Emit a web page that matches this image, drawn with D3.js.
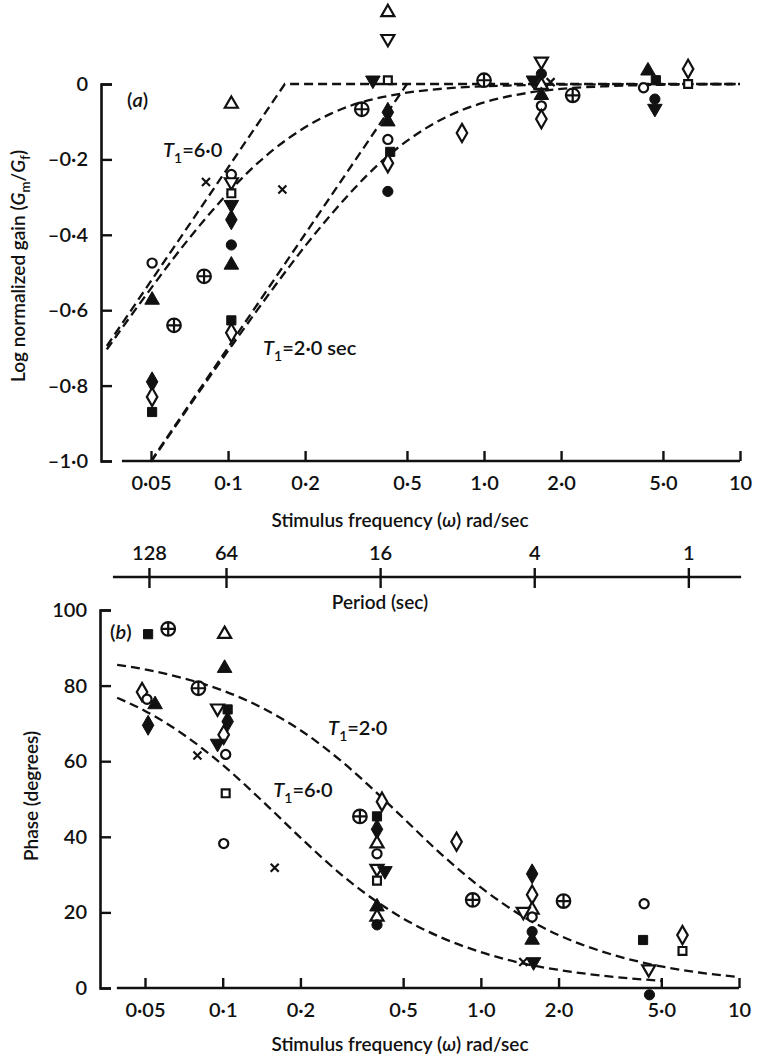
<!DOCTYPE html>
<html>
<head>
<meta charset="utf-8">
<script src="https://cdn.jsdelivr.net/npm/d3@7"></script>
<style>
  body { margin: 0; background: #fff; }
  text { font-family: Lato, "Noto Sans", sans-serif; font-weight: 600; }
</style>
</head>
<body>
<svg id="chart" width="758" height="1061"></svg>
<script>
// tick values and labels
var freqTicks = [0.05, 0.1, 0.2, 0.5, 1, 2, 5, 10];
var freqLabels = ['0·05', '0·1', '0·2', '0·5', '1·0', '2·0', '5·0', '10'];
var gainTicks = [0, -0.2, -0.4, -0.6, -0.8, -1.0];
var gainLabels = ['0', '–0·2', '–0·4', '–0·6', '–0·8', '–1·0'];
var phaseTicks = [0, 20, 40, 60, 80, 100];
var periods = [128, 64, 16, 4, 1];

// (a) gain points: [omega, log gain, symbol]
var gainPoints = [
  [0.0505, -0.475, 'oc'], [0.0505, -0.573, 'ft'], [0.0505, -0.79, 'fdi'],
  [0.0505, -0.83, 'odi'], [0.0505, -0.87, 'fs'],
  [0.0615, -0.64, 'cp'], [0.0806, -0.51, 'cp'], [0.082, -0.26, 'x'],
  [0.103, -0.053, 'ot'], [0.103, -0.24, 'oc'], [0.103, -0.26, 'odn'],
  [0.103, -0.29, 'os'], [0.103, -0.32, 'fdn'], [0.103, -0.36, 'fdi'],
  [0.103, -0.427, 'fc'], [0.103, -0.48, 'ft'], [0.103, -0.627, 'fs'],
  [0.103, -0.66, 'odi'], [0.163, -0.28, 'x'],
  [0.333, -0.067, 'cp'], [0.368, 0.01, 'fdn'],
  [0.421, 0.19, 'ot'], [0.421, 0.12, 'odn'], [0.421, 0.01, 'os'],
  [0.421, -0.075, 'fdi'], [0.421, -0.10, 'ft'], [0.421, -0.147, 'oc'],
  [0.43, -0.18, 'fs'], [0.421, -0.21, 'odi'], [0.421, -0.285, 'fc'],
  [0.82, -0.13, 'odi'], [1.0, 0.01, 'cp'],
  [1.675, 0.06, 'odn'], [1.675, 0.027, 'fc'], [1.56, 0.01, 'fdn'],
  [1.675, -0.003, 'ot'], [1.82, 0.005, 'x'], [1.675, -0.03, 'ft'],
  [1.675, -0.058, 'oc'], [1.675, -0.093, 'odi'], [2.22, -0.03, 'cp'],
  [4.37, 0.035, 'ft'], [4.69, 0.01, 'fs'], [4.2, -0.01, 'oc'],
  [4.65, -0.04, 'fc'], [4.65, -0.065, 'fdn'],
  [6.27, 0.04, 'odi'], [6.27, 0.0, 'os']
];

// (b) phase points: [omega, degrees, symbol]
var phasePoints = [
  [0.0514, 93.6, 'fs'], [0.0615, 95, 'cp'], [0.0487, 78.3, 'odi'],
  [0.0509, 76.4, 'oc'], [0.0547, 75, 'ft'], [0.0514, 69.5, 'fdi'],
  [0.0805, 79.3, 'cp'], [0.0798, 61.5, 'x'],
  [0.1017, 93.6, 'ot'], [0.1017, 84.6, 'ft'], [0.0955, 74, 'odn'],
  [0.1045, 73.7, 'fs'], [0.1045, 70.5, 'fdi'], [0.1009, 67, 'odi'],
  [0.0955, 64.7, 'fdn'], [0.1027, 61.8, 'oc'], [0.1027, 51.5, 'os'],
  [0.1009, 38.2, 'oc'], [0.159, 31.8, 'x'],
  [0.34, 45.4, 'cp'], [0.414, 49.3, 'odi'], [0.396, 45.4, 'fs'],
  [0.396, 42, 'fdi'], [0.396, 38.2, 'ot'], [0.396, 35.5, 'oc'],
  [0.396, 31.6, 'odn'], [0.425, 31, 'fdn'], [0.396, 28.4, 'os'],
  [0.396, 21.5, 'ft'], [0.396, 18.8, 'ot'], [0.396, 16.7, 'fc'],
  [0.805, 38.7, 'odi'], [0.93, 23.3, 'cp'],
  [1.58, 30.2, 'fdi'], [1.58, 24.7, 'odi'], [1.58, 20.7, 'ot'],
  [1.46, 20.2, 'odn'], [1.58, 18.8, 'oc'], [1.58, 14.9, 'fc'],
  [1.58, 12.7, 'ft'], [1.6, 6.9, 'fdn'], [1.46, 6.9, 'x'],
  [2.09, 23, 'cp'], [4.29, 22.3, 'oc'], [4.25, 12.7, 'fs'],
  [4.47, 5, 'odn'], [4.5, -1.8, 'fc'], [6.04, 14, 'odi'], [6.04, 9.8, 'os']
];

// dashed model curves: [omega, value]
var gainAsymT6 = [[0.0336, -0.695], [0.1667, 0], [10, 0]];
var gainT6 = [[0.0336, -0.704], [0.04, -0.632], [0.05, -0.542], [0.06, -0.47], [0.07, -0.412],
  [0.08, -0.364], [0.1, -0.289], [0.12, -0.233], [0.15, -0.175], [0.2, -0.115], [0.25, -0.08],
  [0.3, -0.058], [0.4, -0.035], [0.5, -0.023], [0.7, -0.012], [1, -0.006], [1.5, -0.003],
  [2, -0.0015], [3, -0.0007], [5, -0.0002], [10, 0]];
var gainAsymT2 = [[0.05, -1], [0.5, 0]];
var gainT2 = [[0.05, -1.002], [0.06, -0.924], [0.08, -0.801], [0.1, -0.708], [0.15, -0.542],
  [0.2, -0.43], [0.25, -0.35], [0.3, -0.289], [0.4, -0.204], [0.5, -0.151], [0.7, -0.09],
  [1, -0.049], [1.5, -0.023], [2, -0.013], [3, -0.006], [5, -0.002], [10, -0.0005]];
var phaseT2 = [[0.039, 85.5], [0.05, 84.3], [0.07, 82], [0.1, 78.7], [0.15, 73.3], [0.2, 68.2],
  [0.3, 59], [0.4, 51.3], [0.5, 45], [0.7, 35.5], [1, 26.6], [1.5, 18.4], [2, 14], [3, 9.5],
  [5, 5.7], [7, 4.1], [10, 2.9]];
var phaseT6 = [[0.039, 76.8], [0.05, 73.3], [0.07, 67.2], [0.1, 59], [0.15, 48], [0.2, 39.8],
  [0.3, 29], [0.4, 22.6], [0.5, 18.4], [0.7, 13.4], [1, 9.5], [1.5, 6.3], [2, 4.8], [3, 3.2],
  [5, 1.9]];

var ink = '#111';
var svg = d3.select('#chart');

var xa = d3.scaleLog().domain([0.05, 10]).range([151, 740]);
var ya = d3.scaleLinear().domain([-1, 0]).range([461, 84]);
var xb = d3.scaleLog().domain([0.05, 10]).range([145, 739]);
var yb = d3.scaleLinear().domain([0, 100]).range([988, 610]);

// little helper for italics / subscripts in svg text
function rich(sel, parts, size) {
  var shift = 0;
  parts.forEach(function(p) {
    var t = sel.append('tspan').text(p[0]);
    var sub = p[1].indexOf('s') >= 0;
    var want = sub ? size * 0.28 : 0;
    if (want !== shift) { t.attr('dy', want - shift); shift = want; }
    if (sub) t.attr('font-size', size * 0.7);
    if (p[1].indexOf('i') >= 0) t.attr('font-style', 'italic');
  });
}

function styleAxis(g, size) {
  g.attr('font-size', size).attr('font-family', 'Lato, "Noto Sans", sans-serif').attr('color', ink);
  g.selectAll('.domain').attr('stroke-width', 2.6);
  g.selectAll('.tick line').attr('stroke-width', 2.4);
}

// ---------- panel (a) ----------
var gyA = svg.append('g').attr('transform', 'translate(101,0)')
  .call(d3.axisLeft(ya).tickValues(gainTicks)
    .tickFormat(function(d) { return gainLabels[gainTicks.indexOf(d)]; })
    .tickSizeInner(-11).tickSizeOuter(-11).tickPadding(13));
styleAxis(gyA, 20);

var gxA = svg.append('g').attr('transform', 'translate(0,' + ya(-1) + ')')
  .call(d3.axisBottom(xa).tickValues(freqTicks)
    .tickFormat(function(d) { return freqLabels[freqTicks.indexOf(d)]; })
    .tickSizeInner(-10).tickSizeOuter(0).tickPadding(15));
gxA.select('.domain').attr('d', 'M' + xa(0.0385) + ',0H' + xa(10));
styleAxis(gxA, 20);

// period axis (uses omega = 2*pi/T on the same scale)
var gp = svg.append('g').attr('transform', 'translate(0,577)')
  .call(d3.axisTop(xa).tickValues(periods.map(function(T) { return 2 * Math.PI / T; }))
    .tickFormat(function(d, i) { return String(periods[i]); })
    .tickSizeInner(10).tickSizeOuter(0).tickPadding(7));
gp.select('.domain').attr('d', 'M' + xa(0.0355) + ',0H' + xa(10.1));
gp.selectAll('.tick line').attr('y1', 11).attr('y2', -9);
styleAxis(gp, 20);

svg.append('text').attr('x', 400).attr('y', 527).attr('text-anchor', 'middle')
  .attr('font-size', 19).attr('fill', ink)
  .call(rich, [['Stimulus frequency (', ''], ['ω', 'i'], [') rad/sec', '']], 19);
svg.append('text').attr('x', 380).attr('y', 609).attr('text-anchor', 'middle')
  .attr('font-size', 19).attr('fill', ink).text('Period (sec)');

svg.append('text').attr('transform', 'translate(25,266) rotate(-90)').attr('text-anchor', 'middle')
  .attr('font-size', 19).attr('fill', ink)
  .call(rich, [['Log normalized gain (', ''], ['G', 'i'], ['m', 's'], ['/', ''], ['G', 'i'], ['f', 's'], [')', '']], 19);

// ---------- panel (b) ----------
var gyB = svg.append('g').attr('transform', 'translate(100,0)')
  .call(d3.axisLeft(yb).tickValues(phaseTicks)
    .tickSizeInner(-11).tickSizeOuter(-11).tickPadding(13));
styleAxis(gyB, 20);

var gxB = svg.append('g').attr('transform', 'translate(0,' + yb(0) + ')')
  .call(d3.axisBottom(xb).tickValues(freqTicks)
    .tickFormat(function(d) { return freqLabels[freqTicks.indexOf(d)]; })
    .tickSizeInner(-10).tickSizeOuter(0).tickPadding(15));
gxB.select('.domain').attr('d', 'M' + xb(0.0389) + ',0H' + xb(10));
styleAxis(gxB, 20);

svg.append('text').attr('x', 400).attr('y', 1051).attr('text-anchor', 'middle')
  .attr('font-size', 19).attr('fill', ink)
  .call(rich, [['Stimulus frequency (', ''], ['ω', 'i'], [') rad/sec', '']], 19);
svg.append('text').attr('transform', 'translate(38,796) rotate(-90)').attr('text-anchor', 'middle')
  .attr('font-size', 19).attr('fill', ink).text('Phase (degrees)');

// ---------- dashed curves ----------
function dashed(data, x, y, smooth) {
  var line = d3.line().x(function(d) { return x(d[0]); }).y(function(d) { return y(d[1]); });
  if (smooth) line.curve(d3.curveMonotoneX);
  svg.append('path').datum(data).attr('d', line)
    .attr('fill', 'none').attr('stroke', ink).attr('stroke-width', 2.3)
    .attr('stroke-dasharray', '9,5');
}
dashed(gainAsymT6, xa, ya, false);
dashed(gainT6, xa, ya, true);
dashed(gainAsymT2, xa, ya, false);
dashed(gainT2, xa, ya, true);
dashed(phaseT2, xb, yb, true);
dashed(phaseT6, xb, yb, true);

// ---------- annotations ----------
function note(x, y, w, v, parts) {
  svg.append('text').attr('x', x(w)).attr('y', y(v)).attr('font-size', 20).attr('fill', ink)
    .call(rich, parts, 20);
}
note(xa, ya, 0.0403, -0.061, [['(', ''], ['a', 'i'], [')', '']]);
note(xa, ya, 0.0557, -0.194, [['T', 'i'], ['1', 's'], ['=6·0', '']]);
note(xa, ya, 0.137, -0.719, [['T', 'i'], ['1', 's'], ['=2·0 sec', '']]);
note(xb, yb, 0.0366, 92.3, [['(', ''], ['b', 'i'], [')', '']]);
note(xb, yb, 0.256, 66.9, [['T', 'i'], ['1', 's'], ['=2·0', '']]);
note(xb, yb, 0.157, 50.5, [['T', 'i'], ['1', 's'], ['=6·0', '']]);

// ---------- markers ----------
var times = { draw: function(ctx, size) {
  var r = Math.sqrt(size) / 2;
  ctx.moveTo(-r, -r); ctx.lineTo(r, r); ctx.moveTo(r, -r); ctx.lineTo(-r, r);
} };
var circlePlus = { draw: function(ctx, size) {
  var r = Math.sqrt(size / Math.PI);
  ctx.moveTo(r, 0); ctx.arc(0, 0, r, 0, 2 * Math.PI);
  ctx.moveTo(-r, 0); ctx.lineTo(r, 0); ctx.moveTo(0, -r); ctx.lineTo(0, r);
} };
var symbols = {
  oc: [d3.symbolCircle, 66, false, 0], fc: [d3.symbolCircle, 82, true, 0],
  ot: [d3.symbolTriangle, 74, false, 0], ft: [d3.symbolTriangle, 92, true, 0],
  odn: [d3.symbolTriangle, 74, false, 180], fdn: [d3.symbolTriangle, 92, true, 180],
  os: [d3.symbolSquare, 62, false, 0], fs: [d3.symbolSquare, 84, true, 0],
  odi: [d3.symbolDiamond, 96, false, 0], fdi: [d3.symbolDiamond, 115, true, 0],
  x: [times, 64, false, 0], cp: [circlePlus, 145, false, 0]
};

function marks(data, x, y) {
  svg.append('g').selectAll('path').data(data).join('path')
    .attr('transform', function(d) {
      return 'translate(' + x(d[0]) + ',' + y(d[1]) + ') rotate(' + symbols[d[2]][3] + ')';
    })
    .attr('d', function(d) { var s = symbols[d[2]]; return d3.symbol(s[0], s[1])(); })
    .attr('fill', function(d) { return d[2] === 'x' ? 'none' : (symbols[d[2]][2] ? ink : '#fff'); })
    .attr('stroke', ink)
    .attr('stroke-width', function(d) { return symbols[d[2]][2] ? 1 : 2.2; });
}
marks(gainPoints, xa, ya);
marks(phasePoints, xb, yb);
</script>
</body>
</html>
